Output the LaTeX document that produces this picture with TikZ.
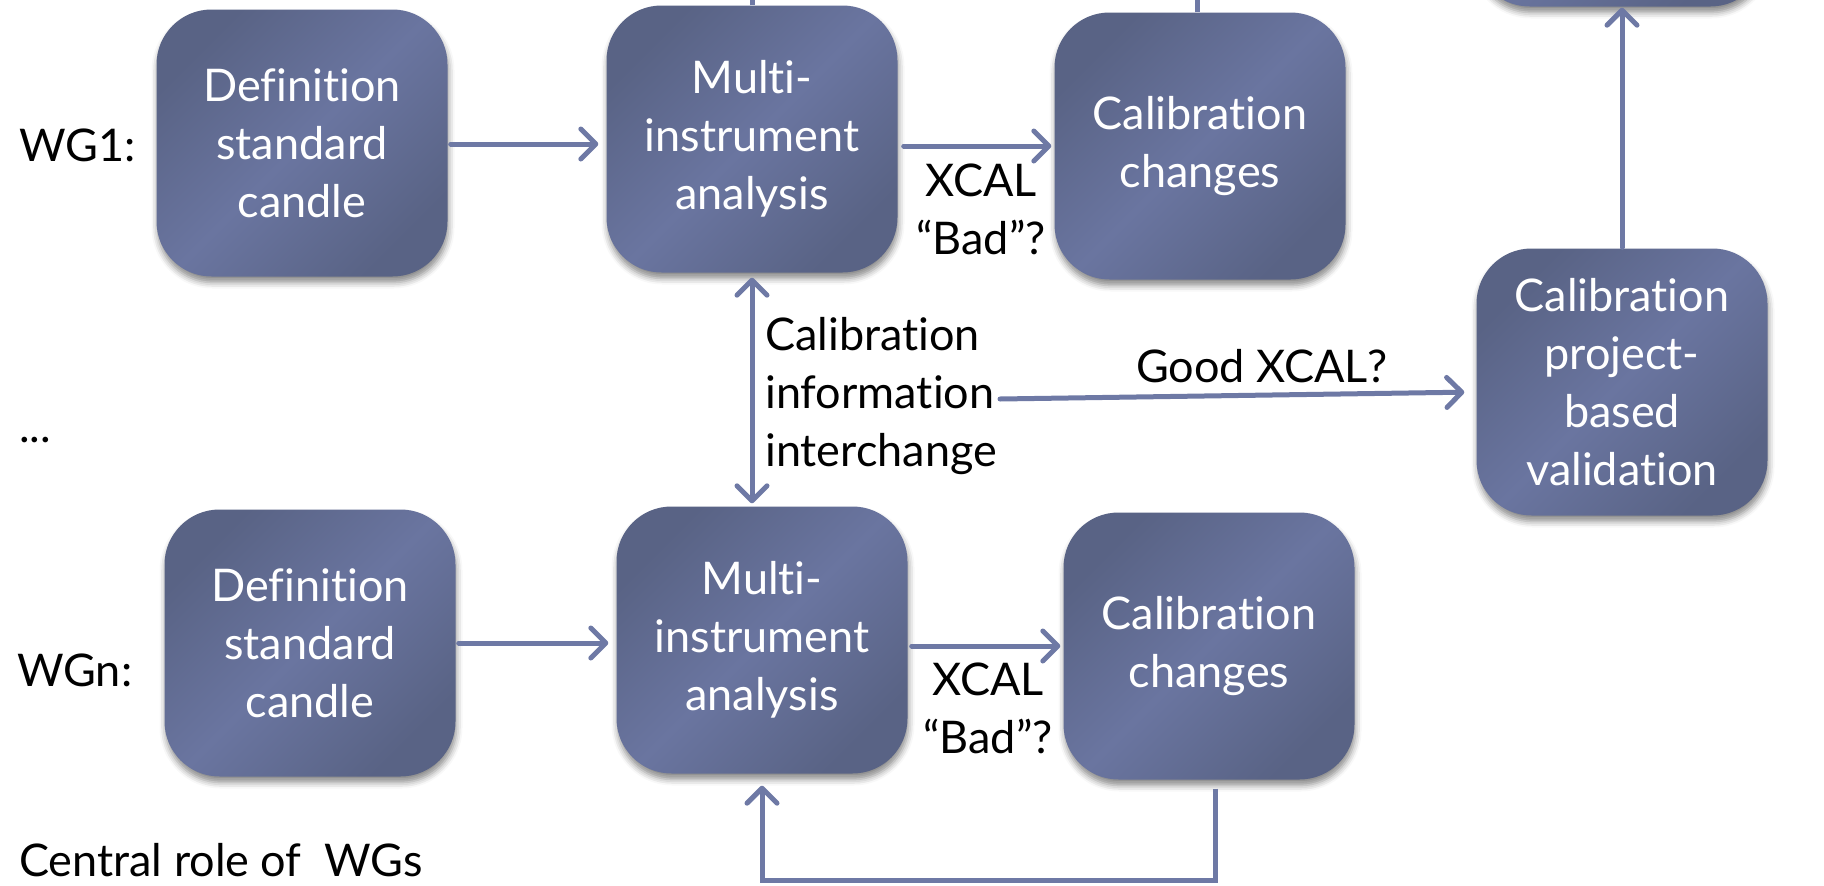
\documentclass[tikz,border=0pt]{standalone}
\usepackage{fontspec}
\setmainfont{Lato}[Ligatures={NoCommon}]
\usetikzlibrary{arrows.meta,shadows.blur}

\definecolor{boxdark}{RGB}{89,99,133}
\definecolor{boxlight}{RGB}{106,117,160}
\definecolor{flowc}{RGB}{110,121,165}

\newcommand\wgfont{\fontsize{45}{58}\selectfont}

\tikzset{
  wgbox/.style={
    rounded corners=55pt, minimum width=291pt, minimum height=267pt,
    inner sep=0pt, align=center, text=white, font=\wgfont,
    top color=boxdark, bottom color=boxdark, middle color=boxlight,
    shading angle=45,
    blur shadow={shadow xshift=1pt, shadow yshift=-6pt,
                 shadow blur radius=6pt, shadow opacity=45}},
  lbl/.style={inner sep=0pt, font=\wgfont, text=black},
  barb/.tip={Straight Barb[length=15pt,width=30pt,line cap=round,line join=round]},
  flow/.style={draw=flowc, line width=5pt, line cap=round, -barb},
  flowboth/.style={draw=flowc, line width=5pt, barb-barb},
  stub/.style={draw=flowc, line width=5pt},
}

\begin{document}
\begin{tikzpicture}[x=1pt,y=-1pt]
\useasboundingbox (0,0) rectangle (1824,886);
\clip (0,0) rectangle (1824,886);

% working group 1
\node[wgbox] (A1) at (302,143) {Definition\\standard\\candle};
\node[wgbox] (B1) at (752,139) {Multi-\\instrument\\analysis};
\node[wgbox] (C1) at (1200,146) {Calibration\\changes};

% working group n
\node[wgbox] (A2) at (310,643) {Definition\\standard\\candle};
\node[wgbox] (B2) at (762,640) {Multi-\\instrument\\analysis};
\node[wgbox] (C2) at (1209,646) {Calibration\\changes};

% project-level validation and the box above it
\node[wgbox] (D) at (1622,382) {Calibration\\project-\\based\\validation};
\node[wgbox] (T) at (1620,-127) {};

% row labels
\node[lbl, anchor=west] (wg1) at (19,145) {WG1:};
\node[lbl, anchor=west] (dots) at (19,440) {...};
\node[lbl, anchor=west] (wgn) at (17,670) {WGn:};
\node[lbl, anchor=west] (central) at (19,860) {Central role of\ \ WGs};

% connector labels
\node[lbl, align=center] (bad1) at (981,209) {XCAL\\“Bad”?};
\node[lbl, align=center] (bad2) at (988,708) {XCAL\\“Bad”?};
\node[lbl, align=left, anchor=west] (info) at (765,396) {Calibration\\information\\interchange};
\node[lbl] (good) at (1262,366) {Good XCAL?};

% row flows
\draw[flow, shorten <=3pt, shorten >=8pt] (A1.east |- 0,144) -- (B1.west |- 0,144);
\draw[flow, shorten <=6pt, shorten >=3pt] (B1.east |- C1.west) -- (C1.west);
\draw[flow, shorten <=3pt, shorten >=8pt] (A2.east) -- (A2.east -| B2.west);
\draw[flow, shorten <=4pt, shorten >=3pt] (B2.east |- C2.west) -- (C2.west);

% interchange between groups
\draw[flowboth, shorten <=5pt, shorten >=3pt] (B1.south) -- (B1.south |- B2.north);
\coordinate (goodstart) at (1000,399);
\draw[flow, shorten >=12pt] (goodstart) -- ([yshift=-10pt]D.west);
\draw[flow, shorten <=1pt, shorten >=1pt] (D.north) -- (D.north |- T.south);

% lines leaving the top edge
\coordinate (up) at (0,-40);
\draw[stub] (B1.north) -- (B1.north |- up);
\draw[stub] ([xshift=-3pt]C1.north) -- ([xshift=-3pt]C1.north |- up);

% feedback loop of group n
\coordinate (loopy) at (0,880);
\draw[flow, line cap=butt, line join=miter, shorten <=9pt, shorten >=12pt]
  ([xshift=6pt]C2.south) -- ([xshift=6pt]C2.south |- loopy) -- (B2.south |- loopy) -- (B2.south);
\end{tikzpicture}
\end{document}
